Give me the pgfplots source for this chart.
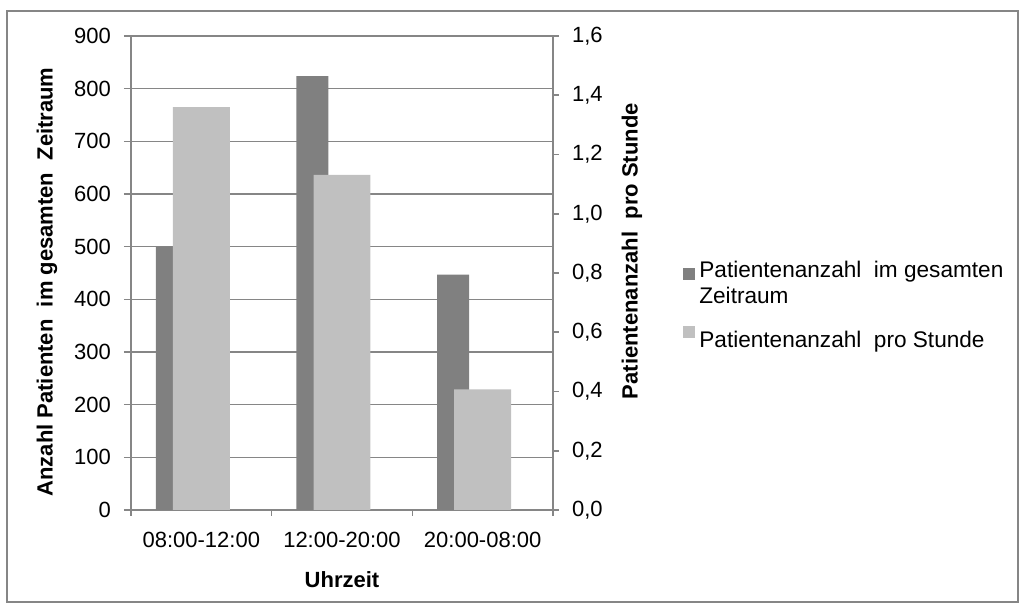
\documentclass[border=0pt]{standalone}
\usepackage{pgfplots}
\pgfplotsset{compat=1.18}
\usepackage{fontspec}
\setmainfont{Liberation Sans}

\definecolor{darkbar}{RGB}{128,128,128}
\definecolor{lightbar}{RGB}{192,192,192}
\definecolor{linegray}{RGB}{134,134,134}

\begin{document}
\begin{tikzpicture}
  \pgfplotsset{
    every axis/.append style={
      scale only axis, width=211pt, height=237pt,
      xmin=-0.5, xmax=2.5,
      axis line style={linegray, line width=0.8pt, -},
      tick style={linegray, line width=0.8pt},
      tick align=outside,
      ticklabel style={font=\fontsize{11}{13}\selectfont},
      /pgf/number format/assume math mode=true,
    },
  }
  % Linke Achse: Patientenanzahl im gesamten Zeitraum
  \begin{axis}[
    axis y line*=left, axis x line*=bottom,
    ymin=0, ymax=900, ytick={0,100,...,900},
    ymajorgrids, grid style={linegray, line width=0.8pt},
    major tick length=3.5pt,
    xtick={0,1,2}, xticklabels={08:00-12:00,12:00-20:00,20:00-08:00},
    major x tick style={draw=none},
    minor xtick={-0.5,0.5,1.5,2.5}, minor tick length=3pt,
    yticklabel style={xshift=-3pt},
    xticklabel style={yshift=-4pt},
    xlabel={\textbf{Uhrzeit}},
    xlabel style={at={(axis description cs:0.5,-0.146)}, anchor=center, font=\fontsize{11}{13}\selectfont},
    ylabel={\textbf{Anzahl Patienten\ \ im gesamten\ \ Zeitraum}},
    ylabel style={at={(axis description cs:-0.199,0.481)}, anchor=center, font=\fontsize{11}{13}\selectfont},
  ]
    \addplot[ybar, bar width=0.227, bar shift=-0.21, fill=darkbar, draw=none]
      coordinates {(0,500) (1,824) (2,447)};
  \end{axis}
  % Rechte Achse: Patientenanzahl pro Stunde
  \begin{axis}[
    axis y line*=right, hide x axis,
    ymin=0, ymax=1.6, ytick={0,0.2,...,1.6},
    major tick length=3pt,
    yticklabel style={xshift=3pt, /pgf/number format/.cd, fixed, fixed zerofill, precision=1, use comma},
    ylabel={\textbf{Patientenanzahl\ \ pro Stunde}},
    ylabel style={at={(axis description cs:1.187,0.546)}, anchor=center, font=\fontsize{11}{13}\selectfont},
    legend style={at={(axis description cs:1.308,0.535)}, anchor=north west, draw=none,
      inner sep=0pt, font=\fontsize{11.3}{13}\selectfont, cells={align=left, anchor=west},
      row sep=8pt},
    legend image code/.code={\fill[#1] (0pt,1.5pt) rectangle (6pt,7.5pt);},
  ]
    \addlegendimage{fill=darkbar, draw=none}
    \addlegendentry{Patientenanzahl\ \ im gesamten\\Zeitraum}
    \addplot[ybar, bar width=0.405, bar shift=0, fill=lightbar, draw=none]
      coordinates {(0,1.360) (1,1.131) (2,0.407)};
    \addlegendentry{Patientenanzahl\ \ pro Stunde}
  \end{axis}
  \draw[linegray, line width=0.75pt] (-62pt,-46pt) rectangle (443.5pt,249.5pt);
  \pgfresetboundingbox
  \useasboundingbox (-65.5pt,-49.5pt) rectangle (447pt,255pt);
\end{tikzpicture}
\end{document}
